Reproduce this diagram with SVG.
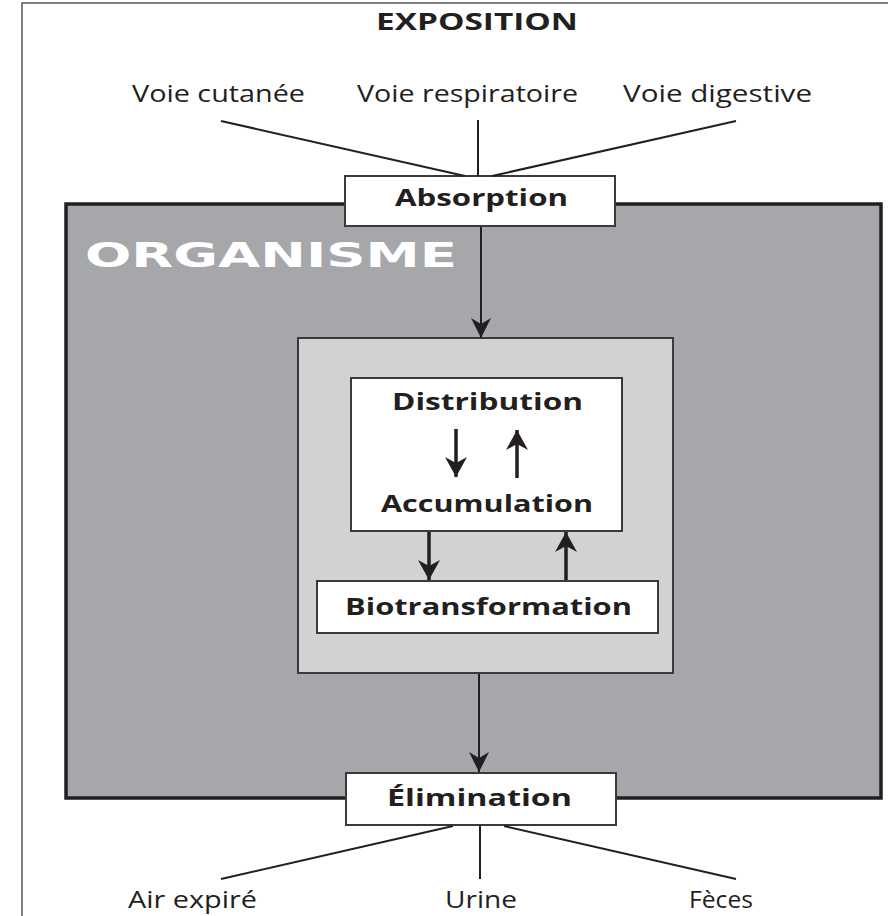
<svg xmlns="http://www.w3.org/2000/svg" width="888" height="916" viewBox="0 0 888 916">
<style>
.lbl{font-family:"Open Sans","Liberation Sans",sans-serif;font-size:24px;fill:#231f20;text-anchor:start}
.bld{font-family:"Open Sans","Liberation Sans",sans-serif;font-weight:bold;font-size:23px;fill:#231f20}
.box{fill:#fff;stroke:#3a3a3a;stroke-width:2}
.ln{stroke:#231f20;stroke-width:2;fill:none}
.thk{stroke:#231f20;stroke-width:3.5;fill:none}
</style>
<defs>
<marker id="ah" viewBox="0 0 20 20" refX="20" refY="10" markerWidth="20" markerHeight="20" markerUnits="userSpaceOnUse" orient="auto">
<path d="M0,0 L20,10 L0,20 L6,10 Z" fill="#231f20"/>
</marker>
<marker id="ah2" viewBox="0 0 20 22" refX="20" refY="11" markerWidth="20" markerHeight="22" markerUnits="userSpaceOnUse" orient="auto">
<path d="M0,0 L20,11 L0,22 L6,11 Z" fill="#231f20"/>
</marker>
</defs>
<rect x="0" y="0" width="888" height="916" fill="#fff"/>
<path d="M22,916 V3 H888" stroke="#555" stroke-width="1.5" fill="none"/>

<g id="organisme">
<rect x="66" y="204" width="815" height="594" fill="#a6a7ab" stroke="#231f20" stroke-width="3.5"/>
<text x="85" y="267" font-family="DejaVu Sans,Verdana,sans-serif" font-weight="bold" font-size="33" fill="#fff" textLength="372" lengthAdjust="spacingAndGlyphs">ORGANISME</text>
</g>
<g id="interieur">
<rect x="298" y="338" width="375" height="335" fill="#d1d2d4" stroke="#3a3a3a" stroke-width="2"/>
</g>

<text class="bld" x="376" y="30" font-size="27" textLength="202" lengthAdjust="spacingAndGlyphs">EXPOSITION</text>

<g id="voie-cutanee"><text class="lbl" x="132" y="102" textLength="173" lengthAdjust="spacingAndGlyphs">Voie cutanée</text></g>
<g id="voie-respiratoire"><text class="lbl" x="357" y="102" textLength="221" lengthAdjust="spacingAndGlyphs">Voie respiratoire</text></g>
<g id="voie-digestive"><text class="lbl" x="623" y="102" textLength="189" lengthAdjust="spacingAndGlyphs">Voie digestive</text></g>

<g id="absorption">
<rect class="box" x="345" y="176" width="270" height="50"/>
<text class="bld" x="395" y="206" textLength="173" lengthAdjust="spacingAndGlyphs">Absorption</text>
</g>

<g id="distribution-accumulation">
<rect class="box" x="351" y="378" width="271" height="153"/>
<text class="bld" x="392" y="410" font-size="24" textLength="191" lengthAdjust="spacingAndGlyphs">Distribution</text>
<text class="bld" x="381" y="512" font-size="24" textLength="212" lengthAdjust="spacingAndGlyphs">Accumulation</text>
</g>

<g id="biotransformation">
<rect class="box" x="317" y="581" width="341" height="52"/>
<text class="bld" x="345" y="615" font-size="24" textLength="287" lengthAdjust="spacingAndGlyphs">Biotransformation</text>
</g>

<g id="elimination">
<rect class="box" x="346" y="773" width="270" height="52"/>
<text class="bld" x="387" y="806" textLength="185" lengthAdjust="spacingAndGlyphs">Élimination</text>
</g>

<g id="air-expire"><text class="lbl" x="128" y="908" textLength="129" lengthAdjust="spacingAndGlyphs">Air expiré</text></g>
<g id="urine"><text class="lbl" x="445" y="908" textLength="72" lengthAdjust="spacingAndGlyphs">Urine</text></g>
<g id="feces"><text class="lbl" x="689" y="908" textLength="64" lengthAdjust="spacingAndGlyphs">Fèces</text></g>

<g id="connecteurs">
<line class="ln" x1="221" y1="121" x2="465" y2="176"/>
<line class="ln" x1="478" y1="120" x2="478" y2="176"/>
<line class="ln" x1="736" y1="121" x2="492" y2="176"/>
<line class="ln" x1="481" y1="227" x2="481" y2="338" marker-end="url(#ah)"/>
<line class="ln" x1="479" y1="674" x2="479" y2="772" marker-end="url(#ah)"/>
<line class="thk" x1="456" y1="429" x2="456" y2="477" marker-end="url(#ah2)"/>
<line class="thk" x1="517" y1="478" x2="517" y2="430" marker-end="url(#ah2)"/>
<line class="thk" x1="429" y1="532" x2="429" y2="580" marker-end="url(#ah2)"/>
<line class="thk" x1="566" y1="580" x2="566" y2="532" marker-end="url(#ah2)"/>
<line class="ln" x1="453" y1="826" x2="221" y2="879"/>
<line class="ln" x1="480" y1="826" x2="480" y2="879"/>
<line class="ln" x1="504" y1="826" x2="736" y2="879"/>
</g>
</svg>
